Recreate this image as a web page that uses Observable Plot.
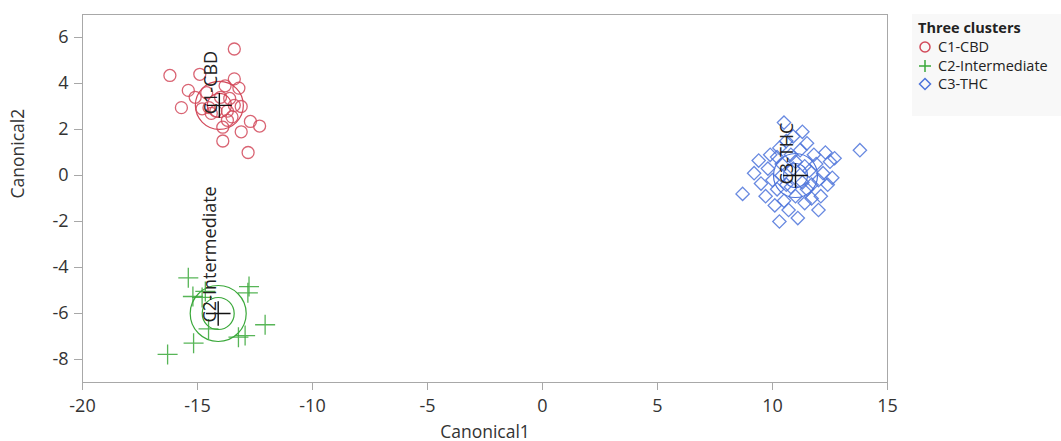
<!DOCTYPE html>
<html>
<head>
<meta charset="utf-8">
<script src="https://cdn.jsdelivr.net/npm/d3@7"></script>
<script src="https://cdn.jsdelivr.net/npm/@observablehq/plot@0.6"></script>
<style>
  html, body { margin: 0; padding: 0; background: #fff; }
  #wrap { position: relative; width: 1061px; height: 441px; font-family: "Open Sans", "Noto Sans", sans-serif; }
  #legend { position: absolute; left: 912px; top: 14px; width: 149px; height: 102px; background: #f8f8f8; font-size: 14.5px; color: #222; }
  #legend .title { position: absolute; left: 6px; top: 4px; font-weight: bold; }
  #legend .item { position: absolute; left: 6px; height: 18px; line-height: 18px; white-space: nowrap; }
  #legend .item svg { vertical-align: middle; margin-right: 6px; position: relative; top: -1px; }
</style>
</head>
<body>
<div id="wrap"><div id="chart"></div><div id="legend"></div></div>
<script>
const clusterNames = ["C1-CBD", "C2-Intermediate", "C3-THC"];
const legendTitle = "Three clusters";
const xTicks = [-20, -15, -10, -5, 0, 5, 10, 15];
const yTicks = [-8, -6, -4, -2, 0, 2, 4, 6];

const c1Points = [
  [-13.4, 5.5], [-16.2, 4.35], [-14.9, 4.4], [-13.4, 4.2], [-15.4, 3.7], [-15.1, 3.4],
  [-15.7, 2.95], [-13.2, 3.8], [-13.6, 3.35], [-14.5, 2.95], [-14.8, 2.9], [-14.2, 2.8],
  [-13.7, 2.8], [-14.4, 2.7], [-13.5, 2.55], [-13.7, 2.4], [-12.7, 2.35], [-12.3, 2.15],
  [-13.1, 1.9], [-13.9, 1.5], [-12.8, 1.0], [-13.1, 3.0], [-13.4, 3.05], [-13.9, 2.1],
  [-14.6, 3.6], [-14.0, 3.4], [-13.8, 3.9]
];
const c2Points = [
  [-15.4, -4.45], [-15.2, -5.26], [-14.66, -5.04], [-12.76, -4.83], [-12.81, -5.1],
  [-12.06, -6.49], [-13.22, -7.03], [-12.93, -6.96], [-15.17, -7.29], [-16.3, -7.78],
  [-14.52, -6.67], [-14.8, -5.3]
];
const c3Points = [
  [10.5, 2.3], [10.6, 1.5], [11.5, 1.4], [13.8, 1.1], [12.7, 0.75], [12.3, 1.0], [9.4, 0.65],
  [9.8, 0.3], [8.7, -0.8], [9.5, -0.35], [10.2, -0.6], [10.3, -2.0], [11.1, -1.85], [12.0, -1.5],
  [11.7, -1.0], [12.0, -0.2], [11.4, 0.4], [10.8, 0.9], [10.2, 0.8], [10.9, 0.3], [11.3, -0.3],
  [10.6, -0.4], [10.4, 0.0], [11.6, 0.2], [11.9, 0.5], [12.2, 0.1], [12.4, -0.4], [11.0, -0.9],
  [10.5, -1.1], [10.0, -0.2], [9.9, 0.9], [10.3, 1.2], [11.2, 1.1], [11.8, 0.9], [12.5, 0.6],
  [12.1, -0.9], [11.5, -0.6], [10.8, -0.5], [10.7, -1.5], [11.4, -1.2], [9.7, -0.9], [10.1, -1.3],
  [11.0, 0.6], [10.4, 0.5], [11.7, -0.4], [12.6, -0.1], [9.2, 0.1], [10.9, 1.7], [11.3, 1.9]
];
const clusterMeanX = [-14.05, -14.1, 11.0];
const clusterMeanY = [3.05, -6.0, 0.0];

const colors = ["#d2495a", "#3aa83a", "#4d74db"];
const symbols = ["circle", "plus", "diamond2"];

const toRows = (pts, i) => pts.map(([x, y]) => ({x, y, cluster: clusterNames[i]}));
const pointSets = [c1Points, c2Points, c3Points].map(toRows);
const means = clusterNames.map((name, i) => ({name, x: clusterMeanX[i], y: clusterMeanY[i], color: colors[i]}));

const outerR = [24, 28, 22];
const innerR = [12, 16, 12];
const fmt = d => `${d}`;

const chart = Plot.plot({
  width: 1061,
  height: 441,
  marginLeft: 82,
  marginRight: 174,
  marginTop: 14,
  marginBottom: 59,
  style: {fontFamily: "'Open Sans', 'Noto Sans', sans-serif", fontSize: "18px", color: "#333", background: "transparent"},
  x: {domain: [-20, 15], label: null},
  y: {domain: [-9, 7], label: null},
  marks: [
    Plot.frame({stroke: "#a8a8a8"}),
    Plot.axisX({ticks: xTicks, tickFormat: fmt, tickSize: 8, tickPadding: 9, fontSize: 18, stroke: "#a8a8a8", color: "#333"}),
    Plot.axisY({ticks: yTicks, tickFormat: fmt, tickSize: 8, tickPadding: 6, fontSize: 18, stroke: "#a8a8a8", color: "#333"}),
    Plot.text(["Canonical1"], {frameAnchor: "bottom", dy: 55, fontSize: 17.5, fill: "#333"}),
    Plot.text(["Canonical2"], {frameAnchor: "left", dx: -64, rotate: -90, fontSize: 17.5, fill: "#333"}),
    ...means.map((m, i) => Plot.dot([m], {x: "x", y: "y", r: outerR[i], stroke: colors[i], strokeWidth: 1.2, fill: "none"})),
    ...means.map((m, i) => Plot.dot([m], {x: "x", y: "y", r: innerR[i], stroke: colors[i], strokeWidth: 1.2, fill: "none"})),
    ...pointSets.map((rows, i) => Plot.dot(rows, {x: "x", y: "y", symbol: symbols[i], r: i === 1 ? 6.5 : 6, stroke: colors[i], strokeWidth: 1.3, fill: "none", strokeOpacity: 0.85})),
    Plot.dot(means, {x: "x", y: "y", symbol: "plus", r: 8, stroke: "#111", strokeWidth: 1.4}),
    Plot.text(means, {x: "x", y: "y", text: "name", rotate: -90, textAnchor: "start", lineAnchor: "middle", dx: -8, dy: 9, fontSize: 18, fill: "#222"})
  ]
});
document.getElementById("chart").appendChild(chart);

// Legend
const legend = document.getElementById("legend");
const t = document.createElement("div");
t.className = "title";
t.textContent = legendTitle;
legend.appendChild(t);
const symbolPaths = [
  c => `<circle cx="7" cy="7" r="5" fill="none" stroke="${c}" stroke-width="1.5"/>`,
  c => `<path d="M1,7H13M7,1V13" stroke="${c}" stroke-width="1.5"/>`,
  c => `<path d="M7,1.5L12.5,7L7,12.5L1.5,7Z" fill="none" stroke="${c}" stroke-width="1.5"/>`
];
clusterNames.forEach((name, i) => {
  const d = document.createElement("div");
  d.className = "item";
  d.style.top = (24 + i * 18.5) + "px";
  d.innerHTML = `<svg width="14" height="14">${symbolPaths[i](colors[i])}</svg>${name}`;
  legend.appendChild(d);
});
</script>
</body>
</html>
